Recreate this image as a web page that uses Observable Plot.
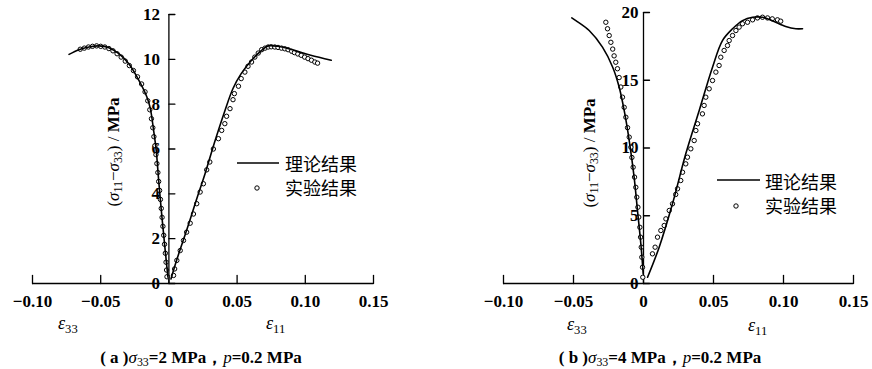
<!DOCTYPE html>
<html><head><meta charset="utf-8">
<script src="https://cdn.jsdelivr.net/npm/d3@7"></script>
<script src="https://cdn.jsdelivr.net/npm/@observablehq/plot@0.6"></script>
<style>
body{margin:0;background:#fff;width:872px;height:369px;position:relative;overflow:hidden;font-family:"Liberation Serif","Times New Roman",serif;color:#000;}
.abs{position:absolute;white-space:nowrap;color:#000;line-height:1;}
.ylab{font-size:17px;transform:translate(-50%,-50%) rotate(-90deg);}
.ylab sub,.eps sub,.cap sub{font-size:0.7em;vertical-align:-0.3em;line-height:0;}
.eps{font-size:18px;transform:translate(0,-50%);}
.cap{font-size:17px;font-weight:bold;transform:translate(-50%,-50%);}
.leg{font-family:"Noto Sans CJK SC",sans-serif;font-size:18px;transform:translate(0,-50%);}
</style></head><body>
<div id="pa" class="abs" style="left:0;top:0"></div>
<div id="pb" class="abs" style="left:436px;top:0"></div>

<div class="abs ylab" style="left:113px;top:152px">(<i>σ</i><sub>11</sub>−<i>σ</i><sub>33</sub>) / <b>MPa</b></div>
<div class="abs ylab" style="left:589px;top:153px">(<i>σ</i><sub>11</sub>−<i>σ</i><sub>33</sub>) / <b>MPa</b></div>

<div class="abs eps" style="left:58px;top:323px"><i>ε</i><sub>33</sub></div>
<div class="abs eps" style="left:266px;top:323px"><i>ε</i><sub>11</sub></div>
<div class="abs eps" style="left:567px;top:324px"><i>ε</i><sub>33</sub></div>
<div class="abs eps" style="left:748px;top:325px"><i>ε</i><sub>11</sub></div>

<div class="abs cap" style="left:201px;top:357px">( a )<i style="font-weight:normal">σ</i><sub style="font-weight:normal">33</sub>=2 MPa，<i style="font-weight:normal">p</i>=0.2 MPa</div>
<div class="abs cap" style="left:660px;top:357px">( b )<i style="font-weight:normal">σ</i><sub style="font-weight:normal">33</sub>=4 MPa，<i style="font-weight:normal">p</i>=0.2 MPa</div>

<svg class="abs" style="left:0;top:0" width="872" height="369">
  <line x1="237" y1="163" x2="279" y2="163" stroke="#000" stroke-width="1.6"/>
  <circle cx="257" cy="188" r="2.2" fill="#fff" stroke="#000" stroke-width="1"/>
  <line x1="717" y1="180" x2="760" y2="180" stroke="#000" stroke-width="1.6"/>
  <circle cx="736" cy="206" r="2.2" fill="#fff" stroke="#000" stroke-width="1"/>
</svg>
<div class="abs leg" style="left:285px;top:163px">理论结果</div>
<div class="abs leg" style="left:285px;top:187px">实验结果</div>
<div class="abs leg" style="left:765px;top:181px">理论结果</div>
<div class="abs leg" style="left:765px;top:205px">实验结果</div>

<script>
// ---------- data ----------
const xTicks = [-0.10, -0.05, 0, 0.05, 0.10, 0.15];
const xTickLabels = ["−0.10", "−0.05", "0", "0.05", "0.10", "0.15"];
const yTicksA = [0, 2, 4, 6, 8, 10, 12];
const yTickLabelsA = ["0", "2", "4", "6", "8", "10", "12"];
const yTicksB = [0, 5, 10, 15, 20];
const yTickLabelsB = ["0", "5", "10", "15", "20"];

// panel (a): sigma33 = 2 MPa
const aTheoryE33 = [[-0.0732,10.22],[-0.066,10.43],[-0.0586,10.55],[-0.0513,10.6],[-0.044,10.52],[-0.0367,10.25],[-0.0294,9.8],[-0.022,9.06],[-0.016,8.3],[-0.0136,7.8],[-0.0112,6.83],[-0.0093,5.94],[-0.0075,4.6],[-0.0051,2.96],[-0.0027,1.47],[-0.0007,0.28]];
const aTheoryE11 = [[0.0015,0.2],[0.006,1.1],[0.013,2.37],[0.020,3.7],[0.0265,4.9],[0.034,6.4],[0.041,7.7],[0.047,8.7],[0.053,9.36],[0.0606,9.96],[0.068,10.4],[0.0728,10.6],[0.080,10.58],[0.092,10.4],[0.104,10.18],[0.119,9.96]];
const aTestE33 = [[-0.065,10.45],[-0.062,10.5],[-0.059,10.55],[-0.056,10.58],[-0.053,10.6],[-0.050,10.58],[-0.047,10.55],[-0.044,10.48],[-0.041,10.38],[-0.038,10.25],[-0.035,10.1],[-0.032,9.92],[-0.029,9.72],[-0.026,9.5],[-0.023,9.22],[-0.020,8.9],[-0.0175,8.55],[-0.0155,8.15],[-0.014,7.75],[-0.0128,7.35],[-0.0118,6.95],[-0.011,6.55],[-0.0102,6.15],[-0.0095,5.75],[-0.0088,5.35],[-0.0081,4.95],[-0.0075,4.55],[-0.0068,4.15],[-0.0062,3.75],[-0.0056,3.35],[-0.005,2.95],[-0.0044,2.55],[-0.0038,2.15],[-0.0032,1.75],[-0.0026,1.35],[-0.0021,0.95],[-0.0017,0.6],[-0.0014,0.3]];
const aTestE11 = [[0.0034,0.36],[0.0042,0.65],[0.0058,1.03],[0.0083,1.47],[0.0107,1.92],[0.013,2.29],[0.0156,2.69],[0.018,3.1],[0.0204,3.56],[0.0229,4.08],[0.0253,4.45],[0.0277,5.07],[0.030,5.42],[0.0326,6.0],[0.0363,6.46],[0.0387,6.83],[0.041,7.13],[0.0423,7.46],[0.0448,7.8],[0.047,8.2],[0.048,8.47],[0.051,8.8],[0.053,9.14],[0.0557,9.43],[0.058,9.69],[0.0606,9.88],[0.063,10.1],[0.0655,10.28],[0.068,10.43],[0.0705,10.5],[0.0728,10.55],[0.075,10.56],[0.0776,10.55],[0.080,10.53],[0.0825,10.5],[0.085,10.47],[0.0874,10.43],[0.090,10.36],[0.092,10.3],[0.0945,10.24],[0.097,10.18],[0.0995,10.1],[0.102,10.03],[0.1045,9.96],[0.107,9.88],[0.109,9.83]];

// panel (b): sigma33 = 4 MPa
const bTheoryE33 = [[-0.0512,19.6],[-0.0483,19.4],[-0.0388,18.67],[-0.0293,17.44],[-0.022,15.96],[-0.0174,14.5],[-0.0138,12.77],[-0.0102,10.55],[-0.0067,7.85],[-0.0043,5.39],[-0.0019,2.93],[-0.0002,0.72]];
const bTheoryE11 = [[0.0029,0.46],[0.0112,2.68],[0.0207,5.88],[0.0302,9.57],[0.0398,12.77],[0.0493,15.96],[0.0564,17.93],[0.0636,18.8],[0.0707,19.4],[0.0779,19.65],[0.085,19.65],[0.092,19.4],[0.1016,18.97],[0.1088,18.8],[0.1136,18.8]];
const bTestE33 = [[-0.0269,19.28],[-0.0257,18.8],[-0.0245,18.3],[-0.0233,17.8],[-0.022,17.3],[-0.021,16.8],[-0.0198,16.33],[-0.0186,15.85],[-0.0174,15.2],[-0.0162,14.5],[-0.015,13.75],[-0.0138,13.0],[-0.0126,12.27],[-0.0114,11.5],[-0.0102,10.8],[-0.009,10.06],[-0.0083,9.3],[-0.0074,8.58],[-0.0064,7.85],[-0.0055,7.1],[-0.0048,6.37],[-0.004,5.63],[-0.0034,4.9],[-0.0026,4.15],[-0.0021,3.42],[-0.0016,2.68],[-0.0012,1.94],[-0.0007,1.2],[-0.0005,0.46]];
const bTestE11 = [[0.0064,2.19],[0.0083,2.68],[0.01,3.42],[0.0124,3.91],[0.0148,4.28],[0.016,4.77],[0.0184,5.39],[0.0207,5.88],[0.023,6.57],[0.0243,6.99],[0.0266,7.6],[0.0279,8.21],[0.0302,8.83],[0.0314,9.32],[0.0338,9.94],[0.0362,10.55],[0.0374,11.29],[0.0386,11.79],[0.0421,12.52],[0.0433,13.14],[0.0445,13.75],[0.0469,14.37],[0.0493,14.98],[0.0517,15.6],[0.054,16.09],[0.0552,16.7],[0.0576,17.2],[0.06,17.56],[0.0612,17.93],[0.0636,18.3],[0.066,18.67],[0.0683,18.92],[0.0707,19.17],[0.0743,19.28],[0.0779,19.46],[0.0814,19.6],[0.085,19.65],[0.0886,19.6],[0.092,19.53],[0.0957,19.46],[0.098,19.36]];

// ---------- drawing ----------
const tickShape = {draw(context, l) { context.moveTo(0, 0); context.lineTo(0, -l); }};

function panel({yDomain, yTicks, yLabels, theory, tests, marginLeft, marginRight, marginTop, yLabelDx}) {
  const H = 320, axisY = 283;
  return Plot.plot({
    width: 436, height: H,
    marginLeft, marginRight, marginTop, marginBottom: H - axisY,
    style: {fontFamily: "'Liberation Serif', 'Times New Roman', serif", fontSize: "17px", fontWeight: "bold", background: "transparent", overflow: "visible"},
    x: {domain: [-0.10, 0.15], axis: null},
    y: {domain: yDomain, axis: null},
    marks: [
      Plot.ruleY([0], {stroke: "#000", strokeWidth: 1.3}),
      Plot.ruleX([0], {stroke: "#000", strokeWidth: 1.3}),
      Plot.vector(xTicks, {x: d => d, y: 0, length: 8, rotate: 0, anchor: "start", shape: tickShape, stroke: "#000", strokeWidth: 1.3}),
      Plot.vector(yTicks, {x: 0, y: d => d, length: 6, rotate: 90, anchor: "start", shape: tickShape, stroke: "#000", strokeWidth: 1.3}),
      Plot.text(xTicks, {x: d => d, y: 0, text: (d, i) => xTickLabels[i], dy: 18, lineAnchor: "middle", fill: "#000"}),
      Plot.text(yTicks, {x: 0, y: d => d, text: (d, i) => yLabels[i], dx: yLabelDx, textAnchor: "end", lineAnchor: "middle", fill: "#000"}),
      ...tests.map(t => Plot.dot(t, {x: d => d[0], y: d => d[1], r: 2.2, fill: "#fff", stroke: "#000", strokeWidth: 1})),
      ...theory.map(t => Plot.line(t, {x: d => d[0], y: d => d[1], curve: "catmull-rom", stroke: "#000", strokeWidth: 1.6}))
    ]
  });
}

document.getElementById("pa").append(panel({
  yDomain: [0, 12], yTicks: yTicksA, yLabels: yTickLabelsA,
  theory: [aTheoryE33, aTheoryE11], tests: [aTestE33, aTestE11],
  marginLeft: 32, marginRight: 63, marginTop: 14, yLabelDx: -9
}));
document.getElementById("pb").append(panel({
  yDomain: [0, 20], yTicks: yTicksB, yLabels: yTickLabelsB,
  theory: [bTheoryE33, bTheoryE11], tests: [bTestE33, bTestE11],
  marginLeft: 67, marginRight: 19, marginTop: 12, yLabelDx: -5
}));
</script>
</body></html>
